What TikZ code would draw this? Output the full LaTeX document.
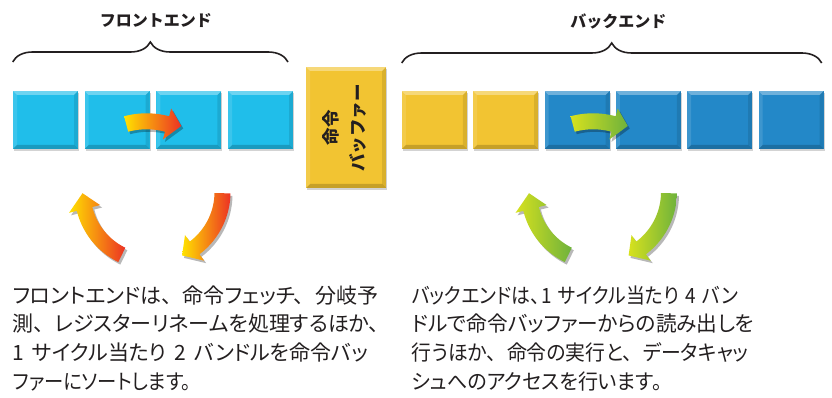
\documentclass[tikz,border=0pt]{standalone}
\usepackage{fontspec}
\newfontfamily\cjk{Noto Sans CJK JP}
\newfontfamily\cjkp[RawFeature=+palt]{Noto Sans CJK JP}
\newfontfamily\cjkSa[RawFeature=+palt,FakeStretch=0.92]{Noto Sans CJK JP}
\newfontfamily\cjkSb[RawFeature=+palt,FakeStretch=0.90]{Noto Sans CJK JP}
\newfontfamily\cjkSc[RawFeature=+palt,FakeStretch=0.945]{Noto Sans CJK JP}
\newfontfamily\cjkSd[RawFeature=+palt,FakeStretch=0.955]{Noto Sans CJK JP}
\newfontfamily\cjkSe[RawFeature=+palt,FakeStretch=0.985]{Noto Sans CJK JP}
\usetikzlibrary{shadows,decorations.pathreplacing}
\definecolor{cyanbox}{RGB}{32,190,234}
\definecolor{bluebox}{RGB}{35,136,200}
\definecolor{yelbox}{RGB}{242,196,50}
\definecolor{txt}{RGB}{35,31,32}
\definecolor{ayel}{RGB}{255,226,0}
\definecolor{ared}{RGB}{236,50,36}
\definecolor{gyel}{RGB}{215,225,30}
\definecolor{ggrn}{RGB}{110,178,60}
\newcommand\widespaces{\spaceskip=8pt\relax}
\newcommand\tk{、\kern0.5em\relax}
\newcommand\bevelcode{%
  \fill[white,opacity=0.35] (path picture bounding box.north west) -- (path picture bounding box.north east)
    -- ([shift={(-4pt,-4pt)}]path picture bounding box.north east) -- ([shift={(4pt,-4pt)}]path picture bounding box.north west) -- cycle;
  \fill[black,opacity=0.18] (path picture bounding box.south west) -- (path picture bounding box.south east)
    -- ([shift={(-4pt,4pt)}]path picture bounding box.south east) -- ([shift={(4pt,4pt)}]path picture bounding box.south west) -- cycle;
  \fill[white,opacity=0.12] (path picture bounding box.south west) -- (path picture bounding box.north west)
    -- ([shift={(4pt,-4pt)}]path picture bounding box.north west) -- ([shift={(4pt,4pt)}]path picture bounding box.south west) -- cycle;
  \fill[black,opacity=0.10] (path picture bounding box.south east) -- (path picture bounding box.north east)
    -- ([shift={(-4pt,-4pt)}]path picture bounding box.north east) -- ([shift={(-4pt,4pt)}]path picture bounding box.south east) -- cycle;
}
% #1 cx, #2 cy, #3 R, #4 tail angle, #5 head base angle, #6 tip angle, #7 tip radius, #8 shading
\newcommand\bentarrow[8]{%
  \fill[black,opacity=0.28,shift={(2,2.5)}]
    plot[domain=#4:#5,samples=30] ({#1+(#3+8)*cos(\x)},{#2+(#3+8)*sin(\x)})
    -- ({#1+(#3+16)*cos(#5)},{#2+(#3+16)*sin(#5)})
    -- ({#1+#7*cos(#6)},{#2+#7*sin(#6)})
    -- ({#1+(#3-16)*cos(#5)},{#2+(#3-16)*sin(#5)})
    -- plot[domain=#5:#4,samples=30] ({#1+(#3-8)*cos(\x)},{#2+(#3-8)*sin(\x)}) -- cycle;
  \shade[#8]
    plot[domain=#4:#5,samples=30] ({#1+(#3+8)*cos(\x)},{#2+(#3+8)*sin(\x)})
    -- ({#1+(#3+16)*cos(#5)},{#2+(#3+16)*sin(#5)})
    -- ({#1+#7*cos(#6)},{#2+#7*sin(#6)})
    -- ({#1+(#3-16)*cos(#5)},{#2+(#3-16)*sin(#5)})
    -- plot[domain=#5:#4,samples=30] ({#1+(#3-8)*cos(\x)},{#2+(#3-8)*sin(\x)}) -- cycle;
}
\tikzset{
  blk/.style={draw=none, minimum width=65pt, minimum height=58pt, inner sep=0pt,
    drop shadow={shadow xshift=1pt,shadow yshift=-2pt,opacity=0.35},
    path picture={\bevelcode}},
  ttl/.style={font=\cjk\bfseries\fontsize{16}{19}\selectfont, text=txt, inner sep=0pt},
  para/.style={font=\cjkp\fontsize{21}{28.9}\selectfont, text=txt, inner sep=0pt, anchor=base west},
  brc/.style={decorate, decoration={brace, amplitude=20pt}, line width=1.6pt, txt},
  orangearr/.style={left color=ayel, right color=ared},
  greenarr/.style={left color=gyel, right color=ggrn}
}
\begin{document}
\begin{tikzpicture}[x=1pt,y=-1pt]
\useasboundingbox (0,0) rectangle (832,398);
% titles
\node[ttl] (tf) at (155.8,21) {フロントエンド};
\node[ttl] (tb) at (618.3,21) {バックエンド};
% braces
\coordinate (fbl) at (12.7,62);
\coordinate (fbr) at (288,62);
\coordinate (bbl) at (401.7,63);
\coordinate (bbr) at (821.7,63);
\draw[brc] (fbl) -- (fbr);
\draw[brc] (bbl) -- (bbr);
% front-end boxes
\node[blk, fill=cyanbox] (f1) at (45.5,120) {};
\node[blk, fill=cyanbox] (f2) at (117.2,120) {};
\node[blk, fill=cyanbox] (f3) at (188.9,120) {};
\node[blk, fill=cyanbox] (f4) at (260.6,120) {};
% buffer
\node[blk, fill=yelbox, minimum width=80pt, minimum height=121pt] (buf) at (346,127.5) {};
\node[rotate=90, font=\cjk\bfseries\fontsize{17.5}{27}\selectfont, align=center, text=txt, inner sep=0pt] (buftxt) at (344,128) {命令\\バッファー};
% back-end boxes
\node[blk, fill=yelbox] (b1) at (434.3,120) {};
\node[blk, fill=yelbox] (b2) at (505.6,120) {};
\node[blk, fill=bluebox] (b3) at (577,120) {};
\node[blk, fill=bluebox] (b4) at (648.3,120) {};
\node[blk, fill=bluebox] (b5) at (719.7,120) {};
\node[blk, fill=bluebox] (b6) at (791,120) {};
% arrows
\bentarrow{146.6}{200.3}{79}{255}{285}{295}{82}{orangearr}
\bentarrow{593.1}{200.3}{79}{255}{285}{295}{82}{greenarr}
\bentarrow{152.5}{192}{70}{116}{166}{179}{70}{orangearr}
\bentarrow{152.5}{192}{70}{1}{53}{65}{70}{orangearr}
\bentarrow{599}{192}{70}{116}{166}{179}{70}{greenarr}
\bentarrow{599}{192}{70}{1}{53}{65}{70}{greenarr}
% paragraphs
\node[para] (l1) at (12.5,303) {フロントエンドは\tk 命令フェッチ\tk 分岐予};
\node[para] (l2) at (12.5,331.9) {測\tk レジスターリネームを処理するほか、};
\node[para] (l3) at (12.5,360.8) {\widespaces 1 サイクル当たり 2 バンドルを命令バッ};
\node[para, font=\cjkSa\fontsize{21}{28.9}\selectfont] (l4) at (12.5,389.7) {ファーにソートします。};
\node[para, font=\cjkSb\fontsize{21}{28.9}\selectfont] (r1) at (411.5,303) {\spaceskip=6.5pt\relax バックエンドは、\kern1.5pt 1 サイクル当たり 4 バン};
\node[para, font=\cjkSe\fontsize{21}{28.9}\selectfont] (r2) at (411.5,331.9) {ドルで命令バッファーからの読み出しを};
\node[para, font=\cjkSc\fontsize{21}{28.9}\selectfont] (r3) at (411.5,360.8) {行うほか\tk 命令の実行と\tk データキャッ};
\node[para, font=\cjkSd\fontsize{21}{28.9}\selectfont] (r4) at (411.5,389.7) {シュへのアクセスを行います。};
\end{tikzpicture}
\end{document}
